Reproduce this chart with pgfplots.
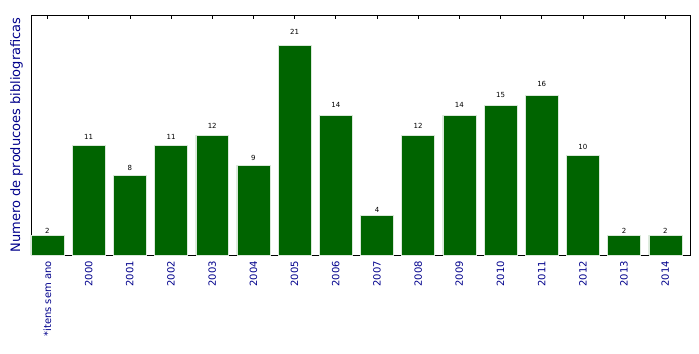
\documentclass[border=0pt]{standalone}
\usepackage{pgfplots}
\pgfplotsset{compat=1.18}
\usepackage{fontspec}
\setmainfont{DejaVu Sans}
\definecolor{barg}{HTML}{006400}
\definecolor{lblue}{HTML}{00008B}
\begin{document}
\begin{tikzpicture}
\begin{axis}[name=ax,
  scale only axis, width=659bp, height=240bp,
  xmin=-0.4, xmax=15.6, ymin=0, ymax=24,
  ytick=\empty,
  xtick={0,...,15},
  xticklabels={*itens sem ano,2000,2001,2002,2003,2004,2005,2006,2007,2008,2009,2010,2011,2012,2013,2014},
  x tick label style={rotate=90, anchor=east, font=\fontsize{10bp}{12bp}\selectfont, text=lblue, inner sep=0pt},
  xticklabel shift=6bp,
  tick align=inside, major tick length=4bp,
  tick style={black, line width=0.6pt},
  axis line style={black, line width=0.9pt},
  ylabel={Numero de producoes bibliograficas},
  ylabel style={font=\fontsize{13bp}{15bp}\selectfont, text=lblue, at={(rel axis cs:0,0.5)}, anchor=south, yshift=8bp, inner sep=0pt},
  /pgf/number format/assume math mode=true,
  visualization depends on={rawy \as \rawy},
  nodes near coords,
  every node near coord/.append style={font=\fontsize{7bp}{8bp}\selectfont, text=black, anchor=south, inner sep=0pt, shift={(axis direction cs:0,{0.05*\rawy})}},
]
\addplot[ybar, bar width=0.8, fill=barg, draw=white!85!barg, line width=0.5pt] coordinates {
(0,2) (1,11) (2,8) (3,11) (4,12) (5,9) (6,21) (7,14) (8,4) (9,12) (10,14) (11,15) (12,16) (13,10) (14,2) (15,2)
};
\end{axis}
\path ([xshift=-31bp,yshift=-99bp]ax.south west) rectangle ([xshift=9bp,yshift=15bp]ax.north east);
\end{tikzpicture}
\end{document}
